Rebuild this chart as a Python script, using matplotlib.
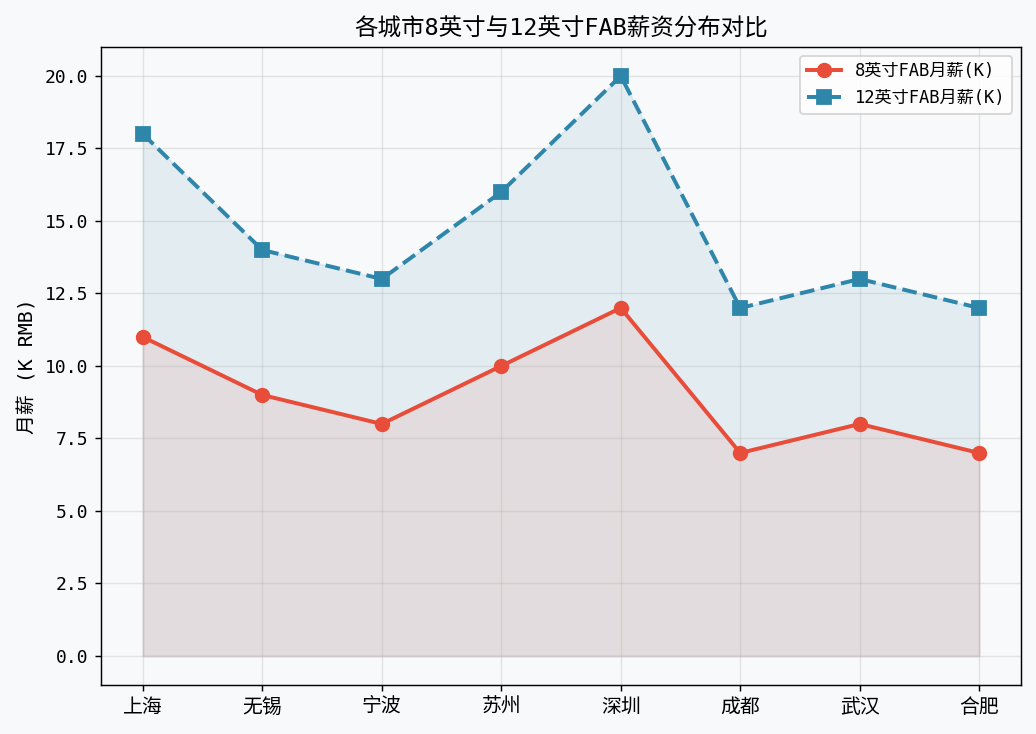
import matplotlib
matplotlib.use('Agg')
import matplotlib.pyplot as plt

plt.rcParams['font.family'] = ['DejaVu Sans Mono', 'Noto Sans CJK SC']
plt.rcParams['axes.unicode_minus'] = False

# data
cities = ['上海', '无锡', '宁波', '苏州', '深圳', '成都', '武汉', '合肥']
salary_8inch = [11, 9, 8, 10, 12, 7, 8, 7]
salary_12inch = [18, 14, 13, 16, 20, 12, 13, 12]

bg = '#f8f9fa'
fig, ax = plt.subplots(figsize=(1036 / 130, 734 / 130), dpi=130)
fig.patch.set_facecolor(bg)
ax.set_facecolor(bg)

x = range(len(cities))
ax.plot(x, salary_8inch, color='#e84d3a', marker='o', markersize=7.5,
        linewidth=2.2, label='8英寸FAB月薪(K)')
ax.plot(x, salary_12inch, color='#2e86ab', marker='s', markersize=7.5,
        linewidth=2.2, linestyle='--', label='12英寸FAB月薪(K)')

ax.fill_between(x, salary_12inch, color='#2e86ab', alpha=0.1)
ax.fill_between(x, salary_8inch, color='#e84d3a', alpha=0.1)

ax.set_xticks(list(x))
ax.set_xticklabels(cities, fontsize=11)
ax.tick_params(axis='y', labelsize=10)
ax.set_ylabel('月薪 (K RMB)', fontsize=11)
ax.set_title('各城市8英寸与12英寸FAB薪资分布对比', fontsize=13)
ax.grid(True, alpha=0.3)
ax.legend(loc='upper right', fontsize=9.5)

fig.subplots_adjust(left=0.0975, right=0.9855, top=0.936, bottom=0.0668)
plt.savefig('out.png', dpi=130, facecolor=bg)
